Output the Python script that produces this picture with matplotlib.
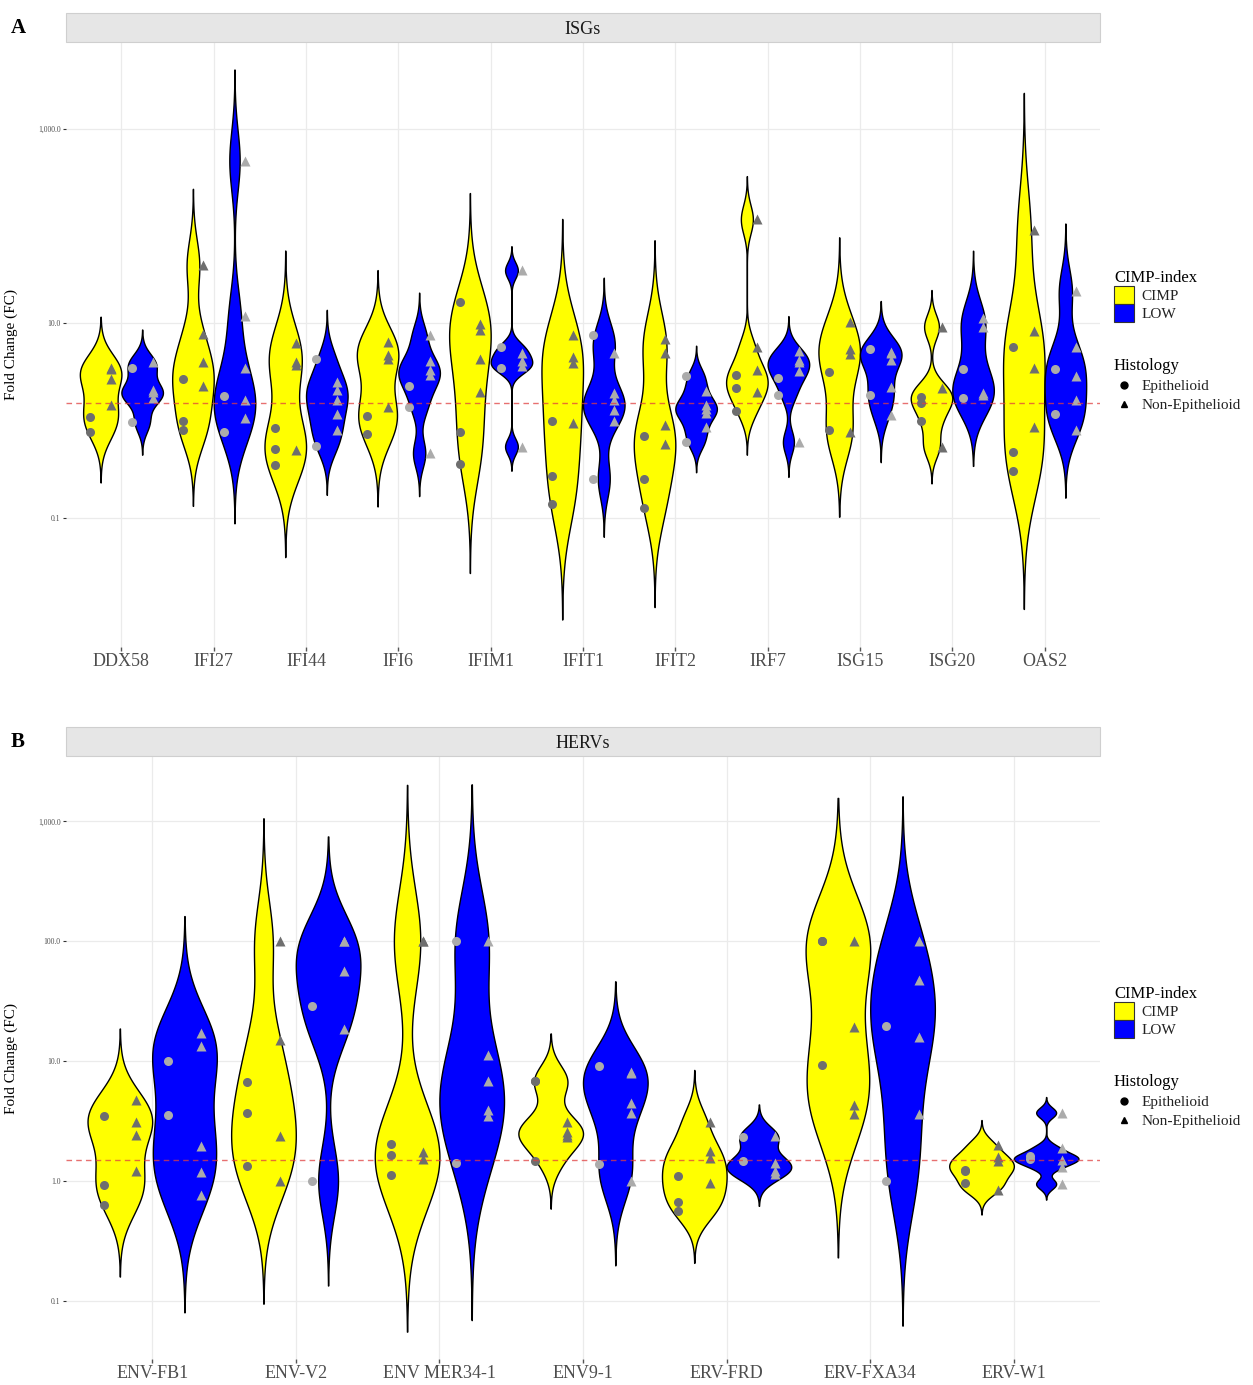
import numpy as np
import matplotlib
matplotlib.use("Agg")
import matplotlib.pyplot as plt
from matplotlib.patches import Patch, Rectangle
from matplotlib.lines import Line2D

plt.rcParams['font.family'] = ['Liberation Serif', 'DejaVu Serif']

# ── Data (fold change) ───────────────────────────────────────────────
isg_genes = ['DDX58', 'IFI27', 'IFI44', 'IFI6', 'IFIM1', 'IFIT1', 'IFIT2',
             'IRF7', 'ISG15', 'ISG20', 'OAS2']
isg_cimp_epi = [[1.08, 0.77], [2.67, 0.98, 0.80], [0.84, 0.51, 0.35],
                [1.12, 0.72], [16.4, 0.77, 0.36], [0.98, 0.27, 0.14],
                [0.70, 0.25, 0.125], [2.95, 2.14, 1.24], [3.14, 0.79],
                [1.74, 1.5, 0.99], [5.75, 0.47, 0.30]]
isg_cimp_non = [[3.5, 3.4, 2.7, 1.45], [40, 7.8, 4.0, 2.29],
                [6.3, 4.0, 3.7, 0.5], [6.4, 4.7, 4.3, 1.37],
                [9.8, 8.5, 4.3, 1.95], [7.6, 4.5, 3.95, 0.94],
                [6.9, 5.0, 0.89, 0.58], [117, 5.7, 3.3, 1.96],
                [10.2, 5.5, 4.85, 0.77], [9.2, 2.15, 0.54],
                [90, 8.3, 3.5, 0.86]]
isg_low_epi = [[3.45, 0.96], [1.8, 0.76], [4.3, 0.55], [2.24, 1.37],
               [5.75, 3.45], [7.5, 0.25], [2.88, 0.6], [2.73, 1.84],
               [5.5, 1.81], [3.37, 1.7], [3.4, 1.17]]
isg_low_non = [[4.0, 2.07, 1.95, 1.7], [470, 11.9, 3.45, 1.64, 1.06],
               [2.48, 2.07, 1.61, 1.17, 0.8], [7.5, 4.1, 3.3, 2.95, 0.46],
               [35, 5.0, 4.1, 3.6, 0.54], [5.0, 1.91, 1.61, 1.29, 1.0],
               [2.0, 1.45, 1.3, 1.2, 0.85], [5.2, 4.2, 4.0, 3.2, 0.6],
               [5.1, 4.9, 4.2, 2.2, 1.15], [11.2, 9.2, 1.9, 1.81],
               [21.6, 5.7, 2.9, 1.61, 0.79]]

herv_genes = ['ENV-FB1', 'ENV-V2', 'ENV MER34-1', 'ENV9-1', 'ERV-FRD',
              'ERV-FXA34', 'ERV-W1']
herv_cimp_epi = [[3.45, 0.93, 0.63], [6.7, 3.7, 1.33], [2.02, 1.64, 1.11],
                 [6.8, 6.8, 1.46], [1.09, 0.67, 0.56], [100, 100, 9.2],
                 [1.24, 1.2, 0.96]]
herv_cimp_non = [[4.7, 3.1, 2.4, 1.2], [100, 15, 2.37, 1.0],
                 [100, 100, 1.75, 1.51], [3.1, 2.57, 2.4, 2.3],
                 [3.1, 1.78, 1.56, 0.96], [100, 19.3, 4.3, 3.6],
                 [2.0, 1.58, 1.46, 0.84]]
herv_low_epi = [[9.9, 3.57], [29, 1.0], [100, 1.4], [9.1, 1.37],
                [2.3, 1.45], [19.5, 1.0], [1.61, 1.52]]
herv_low_non = [[17, 13.3, 1.95, 1.19, 0.76], [100, 100, 56, 18.5],
                [100, 11.3, 6.8, 3.9, 3.5], [8.1, 8.0, 4.5, 3.7, 1.0],
                [2.37, 1.42, 1.2, 1.13], [100, 47, 15.9, 3.6],
                [3.7, 1.87, 1.49, 1.3, 0.94]]

FC_CUTOFF = 1.5

YELLOW = '#FFFF00'
BLUE = '#0000FF'
PT_CIMP = '#6e6e6e'
PT_LOW = '#ababab'
GRID = '#ebebeb'
W, H = 1253, 1385


def bw_nrd0(x):
    x = np.asarray(x)
    n = len(x)
    sd = np.std(x, ddof=1)
    iqr = np.subtract(*np.percentile(x, [75, 25]))
    lo = min(sd, iqr / 1.34)
    if lo <= 0:
        lo = sd if sd > 0 else 1.0
    return 0.9 * lo * n ** -0.2


def violin_profile(vals):
    """Gaussian KDE on log10 values, ggplot-style (trim = FALSE)."""
    lx = np.log10(vals)
    bw = bw_nrd0(lx)
    grid = np.linspace(lx.min() - 3 * bw, lx.max() + 3 * bw, 512)
    dens = np.exp(-0.5 * ((grid[:, None] - lx[None, :]) / bw) ** 2).sum(1)
    return grid, dens / dens.max()


def draw_panel(ax, genes, cimp_epi, cimp_non, low_epi, low_non, yticks,
               yticklabels):
    lows, highs = [], []
    for i in range(len(genes)):
        groups = [(cimp_epi[i] + cimp_non[i], YELLOW, -0.225),
                  (low_epi[i] + low_non[i], BLUE, 0.225)]
        for vals, col, off in groups:
            grid, w = violin_profile(np.array(vals, float))
            hw = w * 0.225
            ax.fill_betweenx(10 ** grid, i + off - hw, i + off + hw,
                             facecolor=col, edgecolor='black', lw=1.0,
                             zorder=3)
            lows.append(grid.min())
            highs.append(grid.max())

        pts = [(cimp_epi[i], 'o', PT_CIMP, -0.3375),
               (cimp_non[i], '^', PT_CIMP, -0.1125),
               (low_epi[i], 'o', PT_LOW, 0.1125),
               (low_non[i], '^', PT_LOW, 0.3375)]
        for vals, mk, col, off in pts:
            ax.plot(np.full(len(vals), i + off), vals, ls='', marker=mk,
                    ms=6.5, color=col, mec='none', zorder=4)

    lo, hi = min(lows), max(highs)
    pad = 0.05 * (hi - lo)
    ax.set_yscale('log')
    ax.set_ylim(10 ** (lo - pad), 10 ** (hi + pad))
    ax.set_xlim(-0.6, len(genes) - 0.4)
    ax.axhline(FC_CUTOFF, color='#e04040', ls=(0, (4, 3)), lw=1.0,
               alpha=0.75, zorder=5)

    ax.set_xticks(range(len(genes)))
    ax.set_xticklabels(genes, fontsize=13, color='#4d4d4d')
    ax.set_yticks(yticks)
    ax.set_yticklabels(yticklabels, fontsize=5.5, color='#4d4d4d')
    ax.yaxis.set_minor_locator(plt.NullLocator())
    ax.tick_params(axis='x', length=3, width=1, color='#555555', pad=1)
    ax.tick_params(axis='y', length=2, width=0.8, color='#333333', pad=2)
    ax.grid(True, color=GRID, lw=0.9, zorder=0)
    ax.set_axisbelow(True)
    for s in ax.spines.values():
        s.set_visible(False)
    ax.set_ylabel('Fold Change (FC)', fontsize=11)
    ax.yaxis.set_label_coords(-0.046, 0.5)


def add_strip(fig, top_px, label):
    x0, x1 = 66 / W, 1100 / W
    y0 = 1 - (top_px + 29) / H
    fig.patches.append(Rectangle((x0, y0), x1 - x0, 29 / H,
                                 transform=fig.transFigure,
                                 facecolor='#e6e6e6', edgecolor='#cfcfcf',
                                 lw=0.8))
    fig.text((x0 + x1) / 2, y0 + 13 / H, label, ha='center', va='center',
             fontsize=13, color='#1a1a1a')


def add_legends(ax, fig, top_px):
    kw = dict(loc='upper left', bbox_transform=fig.transFigure,
              frameon=False, fontsize=11, title_fontsize=12,
              borderaxespad=0, borderpad=0, alignment='left',
              handletextpad=0.5, labelcolor='#222222')
    leg1 = ax.legend(
        handles=[Patch(facecolor=YELLOW, edgecolor='#333333', lw=0.8,
                       label='CIMP'),
                 Patch(facecolor=BLUE, edgecolor='#333333', lw=0.8,
                       label='LOW')],
        title='CIMP-index', bbox_to_anchor=(1114 / W, 1 - top_px / H),
        handlelength=1.3, handleheight=1.4, labelspacing=0.02, **kw)
    ax.add_artist(leg1)
    ax.legend(
        handles=[Line2D([], [], ls='', marker='o', ms=5, color='black',
                        label='Epithelioid'),
                 Line2D([], [], ls='', marker='^', ms=5, color='black',
                        label='Non-Epithelioid')],
        title='Histology', bbox_to_anchor=(1114 / W, 1 - (top_px + 88) / H),
        handlelength=1.3, labelspacing=0.35, **kw)


fig = plt.figure(figsize=(W / 100, H / 100), dpi=100)

ax_a = fig.add_axes([66 / W, 1 - 647 / H, 1034 / W, 605 / H])
draw_panel(ax_a, isg_genes, isg_cimp_epi, isg_cimp_non, isg_low_epi,
           isg_low_non, [0.1, 10, 1000], ['0.1', '10.0', '1,000.0'])
add_strip(fig, 13, 'ISGs')
add_legends(ax_a, fig, 270)

ax_b = fig.add_axes([66 / W, 1 - 1359 / H, 1034 / W, 602 / H])
draw_panel(ax_b, herv_genes, herv_cimp_epi, herv_cimp_non, herv_low_epi,
           herv_low_non, [0.1, 1, 10, 100, 1000],
           ['0.1', '1.0', '10.0', '100.0', '1,000.0'])
add_strip(fig, 727, 'HERVs')
add_legends(ax_b, fig, 986)

fig.text(11 / W, 1 - 28 / H, 'A', fontsize=15, fontweight='bold',
         va='center')
fig.text(11 / W, 1 - 742 / H, 'B', fontsize=15, fontweight='bold',
         va='center')

fig.savefig('out.png', dpi=100)
